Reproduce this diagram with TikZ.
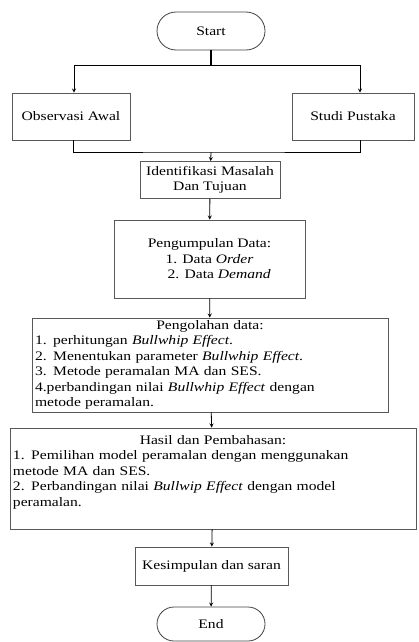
\documentclass[tikz,border=0pt]{standalone}
\usepackage{fontspec}
\setmainfont{Liberation Serif}[FakeStretch=1.2]
\usetikzlibrary{arrows,shapes,positioning,calc}

\begin{document}
\begin{tikzpicture}[
    x=1pt, y=-1pt,
    font=\fontsize{13}{15.5}\selectfont, >=stealth,
    term/.style={rounded rectangle, draw=black!75, line width=0.8pt, minimum width=108pt, inner sep=0pt},
    proc/.style={rectangle, draw=black!65, line width=0.9pt, inner sep=0pt},
    flow/.style={->, line width=0.8pt}
]
    \useasboundingbox (0,0) rectangle (419,642);
    % terminators and steps
    \node[term, minimum height=38pt] (start) at (211,31) {Start};
    \node[proc, minimum width=118pt, minimum height=47pt] (obs) at (71,116.5) {Observasi Awal};
    \node[proc, minimum width=122pt, minimum height=47pt] (studi) at (353,116.5) {Studi Pustaka};
    \node[proc, minimum width=140pt, minimum height=37pt, align=center] (ident) at (210,180) {Identifikasi Masalah\\Dan Tujuan};
    \node[proc, minimum width=191pt, minimum height=78pt, align=center] (kumpul) at (209.5,259)
        {Pengumpulan Data:\\1. Data \textit{Order}\\\hspace*{1.5em}2. Data \textit{Demand}};
    \node[proc, text width=350pt, inner xsep=3pt, minimum height=94pt, align=left] (olah) at (210,365)
        {\makebox[\hsize]{Pengolahan data:}\\
         1. perhitungan \textit{Bullwhip Effect}.\\
         2. Menentukan parameter \textit{Bullwhip Effect}.\\
         3. Metode peramalan MA dan SES.\\
         4.perbandingan nilai \textit{Bullwhip Effect} dengan\\
         metode peramalan.};
    \node[proc, text width=400pt, inner xsep=3pt, minimum height=101pt, align=left] (hasil) at (213,478.5)
        {\makebox[\hsize]{Hasil dan Pembahasan:}\\
         1. Pemilihan model peramalan dengan menggunakan\\
         metode MA dan SES.\\
         2. Perbandingan nilai \textit{Bullwip Effect} dengan model\\
         peramalan.\\
         \mbox{}};
    \node[proc, minimum width=153pt, minimum height=38pt] (simpul) at (211.5,566) {Kesimpulan dan saran};
    \node[term, minimum height=34pt] (stop) at (211,624) {End};
    % connectors
    \coordinate (split) at (211,65);
    \coordinate (merge) at (211,152);
    \draw[line width=1.2pt] (start) -- (split);
    \draw[flow] (split) -| ([xshift=3pt]obs.north);
    \draw[flow] (split) -| ([xshift=7pt]studi.north);
    \draw[line width=0.8pt] ([xshift=2pt]obs.south) |- (merge) -| ([xshift=7pt]studi.south);
    \draw[flow] (merge) -- (ident);
    \draw[flow] (ident) -- (kumpul);
    \draw[flow] (kumpul) -- (olah);
    \draw[flow] (olah) -- (hasil);
    \draw[flow] (hasil) -- (simpul);
    \draw[flow] (simpul) -- (stop);
\end{tikzpicture}
\end{document}
